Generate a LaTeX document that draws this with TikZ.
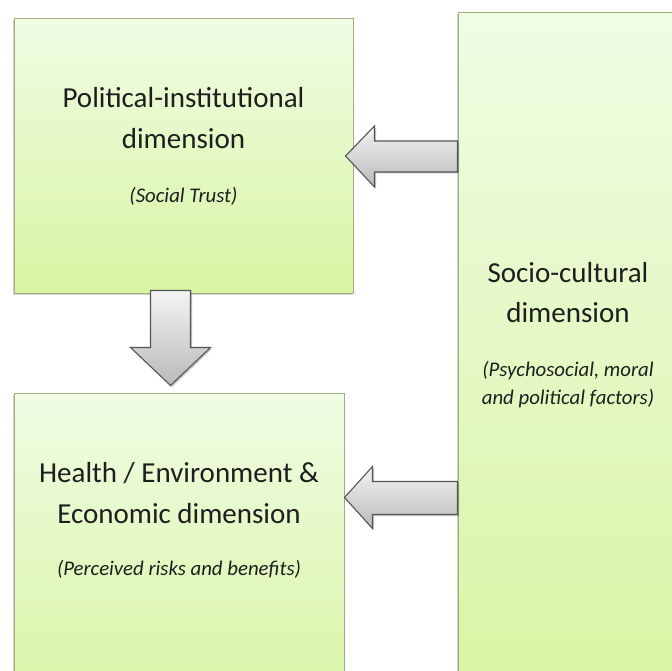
\documentclass[tikz,border=0pt]{standalone}
\usepackage{fontspec}
\setmainfont{Carlito}
\usetikzlibrary{calc,shadows}
\definecolor{boxtop}{HTML}{F0FCE4}
\definecolor{boxbot}{HTML}{D7F5A2}
\definecolor{boxline}{HTML}{A0AE82}
\definecolor{arrtop}{HTML}{F4F4F4}
\definecolor{arrbot}{HTML}{B9B9B9}
\definecolor{arrline}{HTML}{555555}
\definecolor{txt}{HTML}{1E1E1E}
\tikzset{
  dimbox/.style={rectangle, draw=boxline, line width=1pt, top color=boxtop, bottom color=boxbot,
    inner sep=0pt, drop shadow={shadow xshift=-1.5pt, shadow yshift=-1.5pt, opacity=0.3, fill=black!60}},
  titletext/.style={text=txt, font=\fontsize{29}{36}\selectfont, anchor=base, inner sep=0pt},
  subtext/.style={text=txt, font=\itshape\fontsize{20.8}{26}\selectfont, anchor=base, inner sep=0pt},
  blockarrow/.style={draw=arrline, line width=1.1pt, top color=arrtop, bottom color=arrbot, line join=miter,
    drop shadow={shadow xshift=1.5pt, shadow yshift=-1.5pt, opacity=0.3, fill=black!70}}
}
\begin{document}
\begin{tikzpicture}[x=1pt,y=-1pt]
\useasboundingbox (0,0) rectangle (672,671);
\clip (0,0) rectangle (672,671);
\fill[white] (0,0) rectangle (672,671);
% boxes
\node[dimbox, minimum width=339pt, minimum height=274pt] (pol) at (183.5,156) {};
\node[dimbox, minimum width=330pt, minimum height=320pt] (hea) at (179,553) {};
\node[dimbox, minimum width=250pt, minimum height=700pt] (soc) at (583,363) {};
% texts
\node[titletext] (polA) at (183.5,108) {Political-institutional};
\node[titletext] (polB) at (183.5,149) {dimension};
\node[subtext] (polC) at (183.5,203) {(Social Trust)};
\node[titletext] (socA) at (568,282) {Socio-cultural};
\node[titletext] (socB) at (568,322) {dimension};
\node[subtext] (socC) at (568,376) {(Psychosocial, moral};
\node[subtext] (socD) at (568,404) {and political factors)};
\node[titletext] (heaA) at (179,482) {Health / Environment \&};
\node[titletext] (heaB) at (179,523) {Economic dimension};
\node[subtext] (heaC) at (179,575) {(Perceived risks and benefits)};
% arrows
\coordinate (a1tip) at ($(pol.east)+(-8,0)$);
\draw[blockarrow] (a1tip) -- ++(29,-30) -- ++(0,15) -- ($(soc.west |- a1tip)+(0,-15)$)
  -- ($(soc.west |- a1tip)+(0,16)$) -- ($(a1tip)+(29,16)$) -- ($(a1tip)+(29,31)$) -- cycle;
\coordinate (a2tip) at ($(hea.north east)+(0,105)$);
\draw[blockarrow] (a2tip) -- ++(28,-31) -- ++(0,15) -- ($(soc.west |- a2tip)+(0,-16)$)
  -- ($(soc.west |- a2tip)+(0,17)$) -- ($(a2tip)+(28,17)$) -- ($(a2tip)+(28,31)$) -- cycle;
\coordinate (a3top) at ($(pol.south west)+(157,-3)$);
\coordinate (a3tip) at ($(hea.north west)+(157,-7)$);
\draw[blockarrow] ($(a3top)+(-20,0)$) -- ($(a3top)+(20,0)$) -- ($(a3top)+(20,57)$) -- ($(a3top)+(40,57)$)
  -- (a3tip) -- ($(a3top)+(-40,57)$) -- ($(a3top)+(-20,57)$) -- cycle;
\end{tikzpicture}
\end{document}
